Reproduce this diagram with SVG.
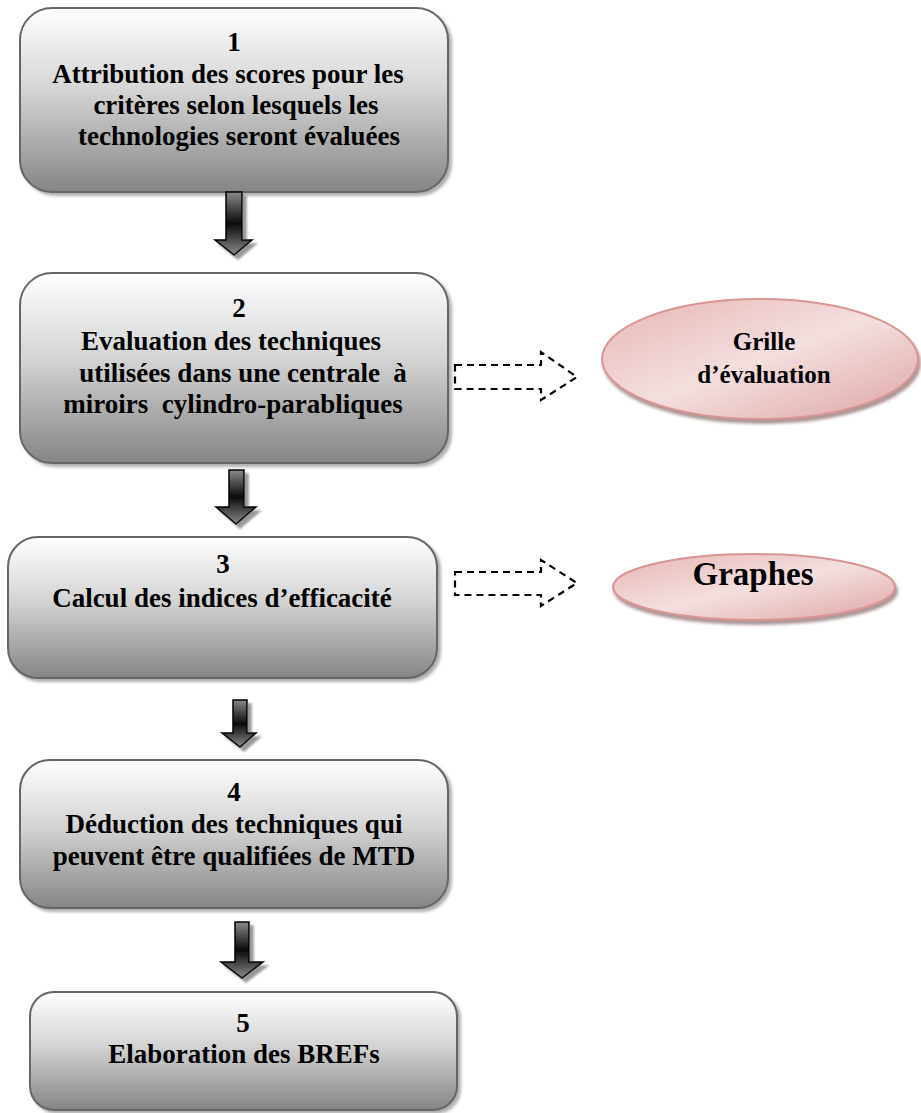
<svg xmlns="http://www.w3.org/2000/svg" width="921" height="1113" viewBox="0 0 921 1113">
<defs>
<linearGradient id="boxGrad" x1="0" y1="0" x2="0" y2="1">
<stop offset="0" stop-color="#ffffff"/>
<stop offset="0.45" stop-color="#d4d4d4"/>
<stop offset="1" stop-color="#858585"/>
</linearGradient>
<linearGradient id="pinkGrad" x1="0" y1="0" x2="1" y2="1">
<stop offset="0" stop-color="#e6b5b4"/>
<stop offset="0.5" stop-color="#f4dfdf"/>
<stop offset="1" stop-color="#dea5a4"/>
</linearGradient>
<linearGradient id="shaftGrad" x1="0" y1="0" x2="0" y2="1">
<stop offset="0" stop-color="#8a8a8a"/>
<stop offset="0.5" stop-color="#0a0a0a"/>
<stop offset="1" stop-color="#8a8a8a"/>
</linearGradient>
<filter id="shadow" x="-10%" y="-10%" width="125%" height="125%">
<feDropShadow dx="3" dy="3" stdDeviation="1.5" flood-color="#7a7a7a" flood-opacity="0.6"/>
</filter>
<filter id="pshadow" x="-10%" y="-10%" width="125%" height="130%">
<feDropShadow dx="2" dy="4" stdDeviation="1.5" flood-color="#8a6a6a" flood-opacity="0.7"/>
</filter>
<filter id="ashadow" x="-30%" y="-10%" width="170%" height="130%">
<feDropShadow dx="4" dy="4" stdDeviation="1" flood-color="#808080" flood-opacity="0.8"/>
</filter>
</defs>
<style>
.box{fill:url(#boxGrad);stroke:#666666;stroke-width:2;filter:url(#shadow)}
.oval{fill:url(#pinkGrad);stroke:#d99594;stroke-width:2;filter:url(#pshadow)}
.t{font-family:"Liberation Serif","DejaVu Serif",serif;font-weight:bold;font-size:27px;fill:#000;text-anchor:middle}
.o{font-size:25px}
.big{font-size:33px}
.arr{fill:url(#shaftGrad);stroke:#000;stroke-width:1.5;filter:url(#ashadow)}
.dash{fill:none;stroke:#000;stroke-width:2.2;stroke-dasharray:7,5}
</style>
<rect width="921" height="1113" fill="#ffffff"/>

<g id="node1">
<rect class="box" x="20" y="8" width="428" height="184" rx="32"/>
<text class="t" x="234" y="51">1</text>
<text class="t" x="228" y="83">Attribution des scores pour les</text>
<text class="t" x="236" y="114">critères selon lesquels les</text>
<text class="t" x="239" y="145">technologies seront évaluées</text>
</g>

<g id="node2">
<rect class="box" x="20" y="273" width="428" height="190" rx="32"/>
<text class="t" x="239" y="317">2</text>
<text class="t" x="231" y="350">Evaluation des techniques</text>
<text class="t" x="243" y="382" xml:space="preserve">utilisées dans une centrale  à</text>
<text class="t" x="233" y="413" xml:space="preserve">miroirs  cylindro-parabliques</text>
</g>

<g id="node3">
<rect class="box" x="8" y="537" width="429" height="141" rx="30"/>
<text class="t" x="223" y="573">3</text>
<text class="t" x="222" y="607">Calcul des indices d’efficacité</text>
</g>

<g id="node4">
<rect class="box" x="20" y="760" width="428" height="148" rx="30"/>
<text class="t" x="234" y="801">4</text>
<text class="t" x="234" y="833">Déduction des techniques qui</text>
<text class="t" x="234" y="865">peuvent être qualifiées de MTD</text>
</g>

<g id="node5">
<rect class="box" x="30" y="992" width="427" height="118" rx="24"/>
<text class="t" x="243" y="1032">5</text>
<text class="t" x="244" y="1063">Elaboration des BREFs</text>
</g>

<g id="grille">
<ellipse class="oval" cx="760" cy="359" rx="158" ry="60"/>
<text class="t o" x="764" y="350">Grille</text>
<text class="t o" x="764" y="383">d’évaluation</text>
</g>

<g id="graphes">
<ellipse class="oval" cx="754" cy="587" rx="141" ry="33"/>
<text class="t big" x="753" y="585">Graphes</text>
</g>

<g id="connectors">
<path class="arr" d="M226,192 H242 V240 H252 L234,255 L215,240 H226 Z"/>
<path class="arr" d="M229,470 H244 V507 H256 L236,524 L216,507 H229 Z"/>
<path class="arr" d="M233,700 H247 V733 H256 L240,747 L222,733 H233 Z"/>
<path class="arr" d="M235,922 H249 V962 H263 L242,978 L221,962 H235 Z"/>
<path class="dash" d="M455,365 H541 V352 L577,377 L541,400 V389 H455 Z"/>
<path class="dash" d="M455,572 H541 V560 L577,583 L541,606 V595 H455 Z"/>
</g>
</svg>
